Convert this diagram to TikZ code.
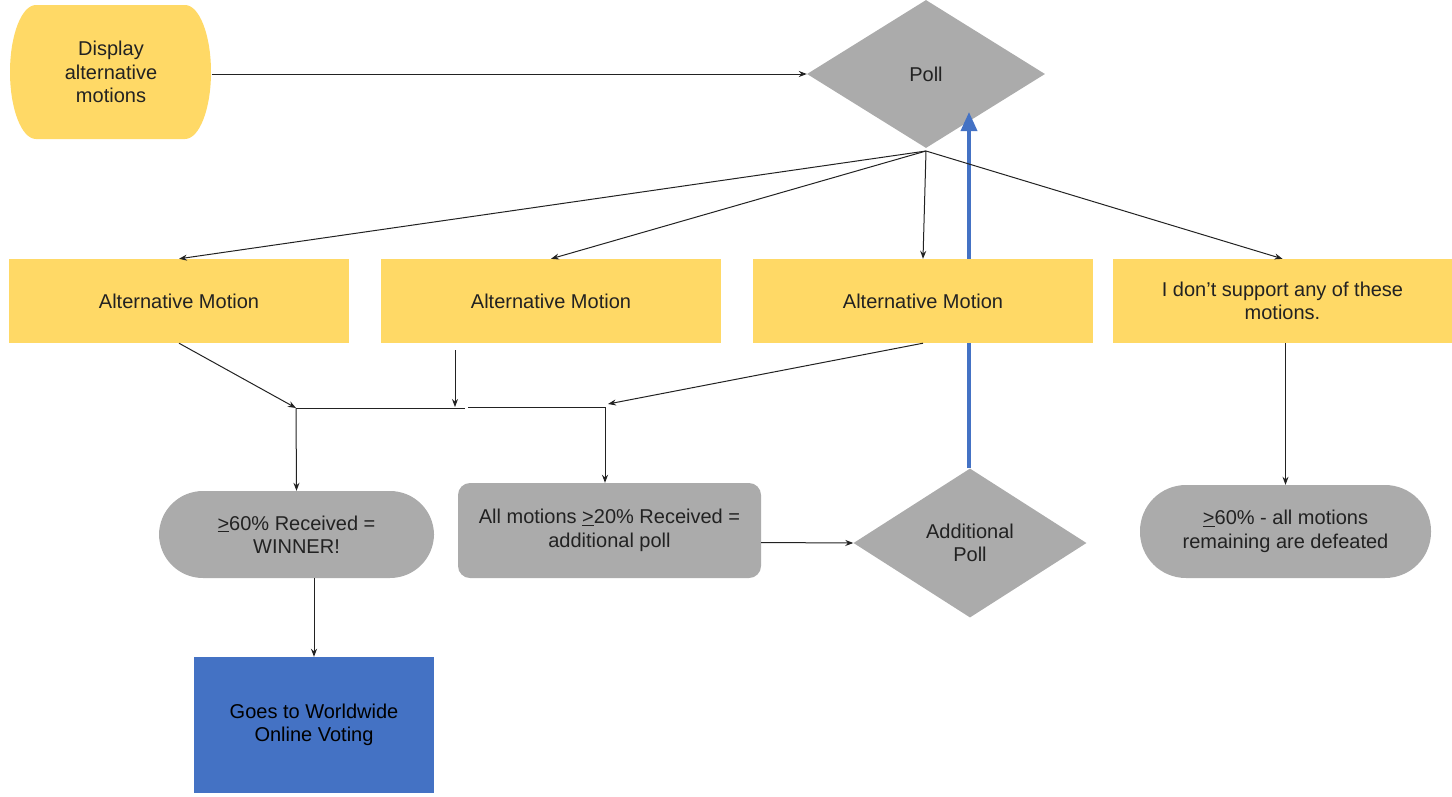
\documentclass[tikz,border=0pt]{standalone}
\usepackage{fontspec}
\setmainfont{Liberation Sans}
\usetikzlibrary{arrows.meta,shapes.geometric}
\definecolor{myyellow}{HTML}{FFD966}
\definecolor{mygray}{HTML}{ABABAB}
\definecolor{myblue}{HTML}{4472C4}
\definecolor{mytext}{HTML}{222222}
\begin{document}
\begin{tikzpicture}[x=1pt,y=-1pt,
  txt/.style={font=\fontsize{20}{23.5}\selectfont, align=center, text=mytext, inner sep=0pt},
  ybox/.style={txt, rectangle, fill=myyellow, minimum width=340pt, minimum height=84pt},
  gstad/.style={txt, rectangle, fill=mygray, rounded corners=44pt},
  gdiam/.style={txt, diamond, fill=mygray},
  conn/.style={draw=mytext, line width=1pt, -{Stealth[length=8pt,width=6pt]}},
  plain/.style={draw=mytext, line width=1pt},
  bluearrow/.style={draw=myblue, line width=3.5pt, -{Triangle[length=19pt,width=16pt]}}
]
\useasboundingbox (0,0) rectangle (1452,796);

% Display shape
\fill[myyellow] (36,5) -- (185,5) arc[start angle=90,end angle=-90,x radius=26pt,y radius=67pt]
  -- (36,139) arc[start angle=270,end angle=90,x radius=26pt,y radius=67pt] -- cycle;
\node[txt, minimum width=201pt, minimum height=134pt] (disp) at (111,72) {Display\\alternative\\motions};

\node[gdiam, minimum width=238pt, minimum height=148pt, aspect=1.6] (poll) at (926,74) {Poll};
\node[gdiam, minimum width=233pt, minimum height=149pt, aspect=1.56] (addp) at (970,543) {Additional\\Poll};

% blue return arrow (drawn behind the yellow boxes)
\coordinate (bluetip) at (969,112);
\draw[bluearrow] (addp.north -| bluetip) -- (bluetip);

\node[ybox] (a1) at (179,301) {Alternative Motion};
\node[ybox] (a2) at (551,301) {Alternative Motion};
\node[ybox] (a3) at (923,301) {Alternative Motion};
\node[ybox, minimum width=339pt] (a4) at (1282.5,301) {I don’t support any of these\\motions.};

\node[gstad, minimum width=275pt, minimum height=87pt] (win) at (296.5,534.5) {\underline{>}60\% Received =\\WINNER!};
\node[txt, rectangle, fill=mygray, rounded corners=12pt, minimum width=303pt, minimum height=95pt] (allm) at (609.5,530.5) {All motions \underline{>}20\% Received =\\additional poll};
\node[gstad, rounded corners=46pt, minimum width=291pt, minimum height=93pt] (def) at (1285.5,531.5) {\underline{>}60\% - all motions\\remaining are defeated};
\node[txt, rectangle, fill=myblue, text=black, minimum width=240pt, minimum height=136pt] (goes) at (314,725) {Goes to Worldwide\\Online Voting};

% connectors
\draw[conn] (disp.east |- poll.west) -- (poll.west);

\coordinate (pout) at (926,151);
\draw[conn] (pout) -- (a1.north);
\draw[conn] (pout) -- (a2.north);
\draw[conn] (pout) -- (a3.north);
\draw[conn] (pout) -- (a4.north);

\coordinate (jl) at (296,408);
\coordinate (gapl) at (465,408);
\coordinate (gapr) at (468,407);
\coordinate (jr) at (605,407);
\coordinate (a2out) at (455,350);
\coordinate (a2in) at (455,407);
\coordinate (a3in) at (608,404);

\draw[conn] (a1.south) -- (jl);
\draw[conn] (a2out) -- (a2in);
\draw[conn] (a3.south) -- (a3in);
\draw[plain] (jl) -- (gapl);
\draw[plain] (gapr) -- (jr);
\draw[conn] (jl) -- (win.north);
\draw[conn] (jr) -- (jr |- allm.north);

\draw[conn] ([yshift=-12pt]allm.east) -- (addp.west);

\draw[conn] (a4.south -| def.north) -- (def.north);
\draw[conn] (goes.north |- win.south) -- (goes.north);
\end{tikzpicture}
\end{document}
